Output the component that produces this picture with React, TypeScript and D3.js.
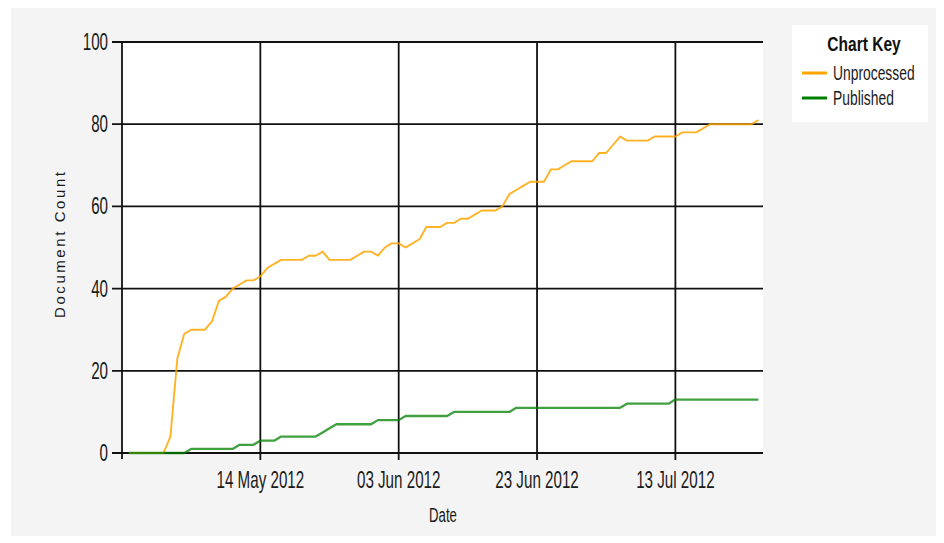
import React from 'react';
import * as d3 from 'd3';

// daily counts, starting 25 Apr 2012
const startDate = new Date(2012, 3, 25);
const unprocessed = [
  0, 0, 0, 0, 0, 0, 4, 23, 29, 30, 30, 30, 32, 37, 38, 40, 41, 42, 42, 43,
  45, 46, 47, 47, 47, 47, 48, 48, 49, 47, 47, 47, 47, 48, 49, 49, 48, 50, 51, 51,
  50, 51, 52, 55, 55, 55, 56, 56, 57, 57, 58, 59, 59, 59, 60, 63, 64, 65, 66, 66,
  66, 69, 69, 70, 71, 71, 71, 71, 73, 73, 75, 77, 76, 76, 76, 76, 77, 77, 77, 77,
  78, 78, 78, 79, 80, 80, 80, 80, 80, 80, 80, 81,
];
const published = [
  0, 0, 0, 0, 0, 0, 0, 0, 0, 1, 1, 1, 1, 1, 1, 1, 2, 2, 2, 3,
  3, 3, 4, 4, 4, 4, 4, 4, 5, 6, 7, 7, 7, 7, 7, 7, 8, 8, 8, 8,
  9, 9, 9, 9, 9, 9, 9, 10, 10, 10, 10, 10, 10, 10, 10, 10, 11, 11, 11, 11,
  11, 11, 11, 11, 11, 11, 11, 11, 11, 11, 11, 11, 12, 12, 12, 12, 12, 12, 12, 13,
  13, 13, 13, 13, 13, 13, 13, 13, 13, 13, 13, 13,
];
const xTicks = [new Date(2012, 4, 14), new Date(2012, 5, 3), new Date(2012, 5, 23), new Date(2012, 6, 13)];
const yTicks = [0, 20, 40, 60, 80, 100];
const seriesNames = ['Unprocessed', 'Published'];
const seriesColors = ['#FFA500', '#008000'];

const font = '"Liberation Sans", Arial, sans-serif';
const sx = 0.66;

export default function App() {
  const width = 944;
  const height = 543;
  const plot = { left: 122, right: 763, top: 42, bottom: 453 };

  const x = d3.scaleTime()
    .domain([new Date(2012, 3, 24), new Date(2012, 6, 25, 16)])
    .range([plot.left, plot.right]);
  const y = d3.scaleLinear().domain([0, 100]).range([plot.bottom, plot.top]);

  const line = d3.line<number>()
    .x((d, i) => x(d3.timeDay.offset(startDate, i)))
    .y(d => y(d));

  const fmt = d3.timeFormat('%d %b %Y');

  // text in the original is tall and condensed
  const squeeze = (tx: number, ty: number) => `translate(${tx},${ty}) scale(${sx},1)`;

  return (
    <svg width={width} height={height} style={{ position: 'absolute', left: 0, top: 0 }}>
      <rect x={0} y={0} width={width} height={height} fill="#ffffff" />
      <rect x={11} y={8} width={925} height={528} fill="#f4f4f4" />
      <rect x={plot.left} y={plot.top} width={plot.right - plot.left} height={plot.bottom - plot.top} fill="#ffffff" />

      {/* horizontal grid + y ticks */}
      {yTicks.map(t => (
        <g key={'y' + t}>
          <line x1={plot.left - 10} x2={plot.right} y1={y(t)} y2={y(t)} stroke="#111" strokeWidth={1.8} />
          <text transform={squeeze(108, y(t) + 8)} textAnchor="end" fontFamily={font} fontSize={23} fill="#1a1a1a">{t}</text>
        </g>
      ))}

      {/* vertical grid + x ticks */}
      {xTicks.map(t => (
        <g key={'x' + t.getTime()}>
          <line x1={x(t)} x2={x(t)} y1={plot.top} y2={plot.bottom + 7} stroke="#111" strokeWidth={1.8} />
          <text transform={squeeze(x(t), 488)} textAnchor="middle" fontFamily={font} fontSize={23} fill="#1a1a1a">{fmt(t)}</text>
        </g>
      ))}
      <line x1={plot.left} x2={plot.left} y1={plot.top} y2={plot.bottom + 6} stroke="#111" strokeWidth={1.8} />

      <path d={line(unprocessed) || ''} fill="none" stroke={seriesColors[0]} strokeOpacity={0.85} strokeWidth={1.9} strokeLinejoin="round" />
      <path d={line(published) || ''} fill="none" stroke={seriesColors[1]} strokeOpacity={0.75} strokeWidth={2.3} strokeLinejoin="round" />

      {/* axis titles */}
      <text transform={squeeze(443, 522)} textAnchor="middle" fontFamily={font} fontSize={20} fill="#1a1a1a">Date</text>
      <text transform="translate(65,245) rotate(-90)" textAnchor="middle" fontFamily={font} fontSize={15} fill="#1a1a1a"
        textLength={146} lengthAdjust="spacing">Document Count</text>

      {/* legend */}
      <rect x={792} y={25} width={136} height={97} fill="#ffffff" />
      <text transform={`translate(864,51) scale(0.74,1)`} textAnchor="middle" fontFamily={font} fontSize={21} fontWeight="bold" fill="#111">Chart Key</text>
      {seriesNames.map((name, i) => (
        <g key={name}>
          <line x1={802} x2={827} y1={73 + i * 25} y2={73 + i * 25} stroke={seriesColors[i]} strokeWidth={3} />
          <text transform={squeeze(833, 80 + i * 25)} fontFamily={font} fontSize={21} fill="#1a1a1a">{name}</text>
        </g>
      ))}
    </svg>
  );
}
